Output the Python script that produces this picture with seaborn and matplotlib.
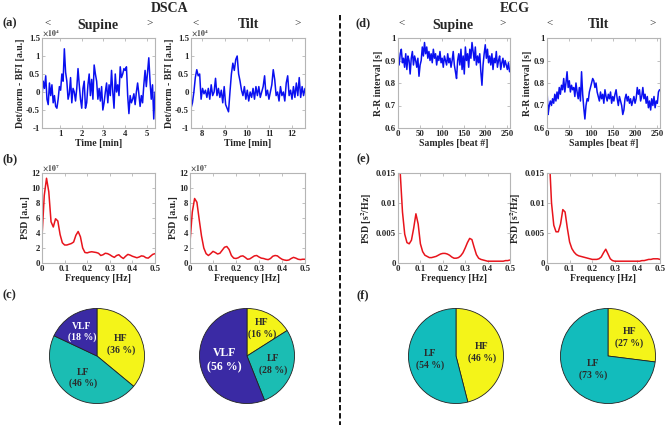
import numpy as np
import pandas as pd
import matplotlib
matplotlib.use("Agg")
import matplotlib.pyplot as plt
import seaborn as sns

# ---- data ----
# (a) DSCA BFI, x1e4 [a.u.]
bfi_supine_t = (0.17, 5.37)
bfi_supine = [-0.1, 0.3, 0.1, 0.45, -0.2, -0.35, 0.25, -0.1, 0.2, -0.3, -0.1, -0.4, -0.45, -0.2,
              0.15, 0.05, 0.5, 0.3, 1.2, 0.55, 0.3, -0.2, -0.05, 0.4, -0.3, 0.1, 0.0, -0.25, 0.1,
              0.65, 0.2, -0.2, -0.45, 0.1, 0.3, -0.45, -0.3, 0.2, 0.5, -0.1, 0.35, -0.2, 0.75, 0.5,
              0.3, -0.2, 0.1, -0.25, 0.15, -0.5, -0.3, 0.0, 0.25, -0.3, 0.2, -0.1, 0.6, 0.0, -0.45,
              0.5, 0.0, 0.2, -0.1, 0.7, 0.4, 0.5, 0.65, 0.6, 0.7, -0.1, -0.6, -0.1, -0.3, -0.2,
              -0.05, -0.35, 0.0, 0.25, -0.05, -0.4, -0.1, -0.3, 0.2, 0.6, 0.15, 0.55, 0.95, 0.3,
              -0.2, 0.2, -0.75, 0.0]
bfi_tilt_t = (7.51, 12.58)
bfi_tilt = [-0.45, -0.3, 0.0, 0.4, 0.62, 0.45, 0.5, -0.2, 0.1, -0.05, 0.05, -0.15, 0.1, -0.2, 0.2,
            -0.1, 0.0, 0.38, -0.1, 0.1, -0.15, 0.05, -0.3, 0.15, -0.35, -0.45, -0.55, 0.0, 0.5,
            0.8, 0.6, 0.9, 1.0, 0.5, 0.3, 0.05, -0.1, 0.15, -0.2, 0.05, -0.25, 0.0, -0.15, 0.1,
            -0.2, 0.15, -0.1, 0.15, -0.15, 0.0, 0.15, 0.45, -0.1, 0.05, -0.2, 0.0, 0.2, 0.62, 0.35,
            -0.1, 0.0, -0.25, 0.15, -0.1, 0.0, -0.25, 0.25, 0.45, -0.1, 0.05, -0.2, 0.15, -0.15,
            0.25, -0.1, 0.4, -0.15, 0.15, -0.1, 0.1]

# (b) DSCA PSD, x1e7 [a.u.], 0..0.5 Hz step 0.01
psd_freq = [round(0.01 * i, 2) for i in range(51)]
psd_bfi_supine = [3.5, 9.0, 11.3, 9.5, 5.5, 4.8, 5.9, 5.6, 3.8, 2.7, 2.4, 2.4, 2.5, 2.6, 2.8, 3.7,
                  4.2, 3.5, 2.0, 1.4, 1.35, 1.45, 1.5, 1.45, 1.4, 1.3, 1.0, 1.1, 1.3, 1.25, 1.1,
                  0.9, 0.75, 1.0, 1.1, 0.8, 0.6, 0.9, 1.15, 1.05, 0.9, 0.8, 0.7, 0.8, 0.95, 0.9,
                  0.7, 0.65, 0.9, 1.15, 1.25]
psd_bfi_tilt = [2.8, 6.8, 8.6, 8.1, 5.8, 3.6, 2.0, 1.25, 1.0, 1.25, 1.55, 1.4, 1.2, 1.3, 1.7, 2.1,
                2.2, 1.8, 1.0, 0.65, 0.6, 0.7, 0.9, 0.95, 0.75, 0.5, 0.55, 0.75, 0.95, 1.0, 0.8,
                0.65, 0.6, 0.5, 0.45, 0.6, 0.9, 1.0, 0.95, 0.7, 0.5, 0.4, 0.35, 0.4, 0.6, 0.75,
                0.65, 0.5, 0.45, 0.5, 0.5]

# (c) DSCA band shares [%]
dsca_supine_pct = {"HF": 36, "LF": 46, "VLF": 18}
dsca_tilt_pct = {"HF": 16, "LF": 28, "VLF": 56}

# (d) ECG R-R intervals [s], samples 0..255
rr_last_sample = 255
rr_supine = [0.9, 0.88, 0.93, 0.95, 0.89, 0.91, 0.87, 0.93, 0.86, 0.92, 0.9, 0.84, 0.91, 0.94,
             0.88, 0.92, 0.9, 0.87, 0.91, 0.83, 0.88, 0.9, 0.96, 0.92, 0.98, 0.93, 0.96, 0.91,
             0.94, 0.9, 0.93, 0.89, 0.95, 0.91, 0.93, 0.88, 0.92, 0.9, 0.94, 0.89, 0.91, 0.87,
             0.92, 0.9, 0.88, 0.93, 0.89, 0.91, 0.87, 0.9, 0.94, 0.88, 0.85, 0.82, 0.9, 0.93,
             0.88, 0.95, 0.86, 0.92, 0.84, 0.96, 0.9, 0.93, 0.87, 0.95, 0.91, 0.98, 0.94, 0.9,
             0.96, 0.88, 0.92, 0.89, 0.93, 0.85, 0.79, 0.88, 0.93, 0.97, 0.91, 0.95, 0.89, 0.92,
             0.88, 0.93, 0.86, 0.91, 0.89, 0.94, 0.87, 0.9, 0.92, 0.86, 0.89, 0.91, 0.87, 0.9,
             0.88, 0.86, 0.89, 0.85]
rr_tilt = [0.77, 0.66, 0.7, 0.72, 0.7, 0.73, 0.71, 0.75, 0.72, 0.76, 0.73, 0.78, 0.75, 0.79,
           0.77, 0.82, 0.76, 0.8, 0.85, 0.78, 0.81, 0.76, 0.79, 0.77, 0.78, 0.74, 0.8, 0.76, 0.73,
           0.78, 0.72, 0.85, 0.75, 0.69, 0.64, 0.7, 0.73, 0.72, 0.76, 0.78, 0.8, 0.82, 0.81, 0.78,
           0.8, 0.76, 0.74, 0.72, 0.76, 0.73, 0.75, 0.71, 0.77, 0.74, 0.72, 0.75, 0.73, 0.76,
           0.71, 0.74, 0.72, 0.75, 0.77, 0.73, 0.7, 0.74, 0.72, 0.7, 0.66, 0.68, 0.73, 0.75,
           0.72, 0.74, 0.71, 0.73, 0.7, 0.72, 0.74, 0.71, 0.73, 0.78, 0.75, 0.77, 0.72, 0.74,
           0.78, 0.73, 0.75, 0.71, 0.74, 0.69, 0.72, 0.68, 0.73, 0.7, 0.74, 0.69, 0.72, 0.71,
           0.76, 0.77]

# (e) ECG PSD [s^2/Hz]
psd_rr_supine = [0.03, 0.015, 0.0085, 0.0048, 0.0034, 0.0032, 0.0038, 0.0058, 0.0082, 0.0065,
                 0.0032, 0.0019, 0.0013, 0.0011, 0.0009, 0.0009, 0.001, 0.0011, 0.0013, 0.0015,
                 0.0016, 0.0016, 0.0015, 0.0013, 0.001, 0.0008, 0.0008, 0.0009, 0.0012, 0.0017,
                 0.0025, 0.0034, 0.0041, 0.0039, 0.0026, 0.0014, 0.0008, 0.0006, 0.0005, 0.0004,
                 0.0003, 0.0003, 0.0003, 0.0003, 0.0003, 0.0003, 0.0003, 0.0003, 0.0004, 0.0004,
                 0.0005]
psd_rr_tilt = [0.03, 0.018, 0.01, 0.0063, 0.0052, 0.0052, 0.0065, 0.0089, 0.0085, 0.0058, 0.0035,
               0.0024, 0.0018, 0.0014, 0.0012, 0.0011, 0.001, 0.0009, 0.0008, 0.0007, 0.0006,
               0.0006, 0.0006, 0.0007, 0.001, 0.0017, 0.0023, 0.0015, 0.0007, 0.0004, 0.0003,
               0.0003, 0.0003, 0.0003, 0.0003, 0.0003, 0.0003, 0.0003, 0.0003, 0.0003, 0.0003,
               0.0003, 0.0004, 0.0004, 0.0005, 0.0006, 0.0006, 0.0007, 0.0007, 0.0007, 0.0006]

# (f) ECG band shares [%]
ecg_supine_pct = {"HF": 46, "LF": 54}
ecg_tilt_pct = {"HF": 27, "LF": 73}

# ---- style ----
sns.set_style("ticks")
plt.rcParams["font.family"] = ["Liberation Serif", "DejaVu Serif"]
plt.rcParams["font.weight"] = "bold"
plt.rcParams["axes.labelweight"] = "bold"
plt.rcParams["mathtext.fontset"] = "stix"
plt.rcParams["mathtext.default"] = "bf"

W, H = 667, 425
fig = plt.figure(figsize=(W / 100, H / 100), dpi=100)


def px_axes(x0, y0, x1, y1):
    # pixel box (top-left origin) -> figure axes
    return fig.add_axes([x0 / W, 1 - y1 / H, (x1 - x0) / W, (y1 - y0) / H])


def style(ax):
    for s in ax.spines.values():
        s.set_color("#b5b5b5")
        s.set_linewidth(0.8)
    ax.tick_params(direction="in", length=2, width=0.6, color="#b5b5b5",
                   labelsize=6.3, pad=1.5, top=True, right=True)
    for lab in ax.get_xticklabels() + ax.get_yticklabels():
        lab.set_fontweight("bold")


BLUE = "#0a10f0"
RED = "#e8141c"
lab_fs = 7

# (a) BFI traces
for (x0, x1), vals, t in [((42, 155), bfi_supine, bfi_supine_t),
                          ((191, 305), bfi_tilt, bfi_tilt_t)]:
    ax = px_axes(x0, 38, x1, 128)
    df = pd.DataFrame({"t": np.linspace(t[0], t[1], len(vals)), "v": vals})
    sns.lineplot(data=df, x="t", y="v", ax=ax, color=BLUE, lw=1.1)
    ax.set_xlim(t)
    ax.set_ylim(-1, 1.5)
    ax.set_yticks([-1, -0.5, 0, 0.5, 1, 1.5], ["-1", "-0.5", "0", "0.5", "1", "1.5"])
    ax.set_xlabel("Time [min]", fontsize=lab_fs, labelpad=1)
    ax.set_ylabel("Det/norm - BFI [a.u.]", fontsize=lab_fs, labelpad=1)
    ax.text(0.0, 1.0, r"$\times10^{4}$", transform=ax.transAxes, fontsize=5.5,
            color="#444444", va="bottom")
    style(ax)
    if t[0] < 1:
        ax.set_xticks([1, 2, 3, 4, 5])
    else:
        ax.set_xticks([8, 9, 10, 11, 12])

# (b) BFI PSD
for x0, x1, vals in [(42, 155, psd_bfi_supine), (190, 305, psd_bfi_tilt)]:
    ax = px_axes(x0, 173, x1, 263)
    sns.lineplot(x=psd_freq, y=vals, ax=ax, color=RED, lw=1.1)
    ax.set_xlim(0, 0.5)
    ax.set_ylim(0, 12)
    ax.set_yticks([0, 2, 4, 6, 8, 10, 12])
    ax.set_xticks([0, 0.1, 0.2, 0.3, 0.4, 0.5], ["0", "0.1", "0.2", "0.3", "0.4", "0.5"])
    ax.set_xlabel("Frequency [Hz]", fontsize=lab_fs, labelpad=1)
    ax.set_ylabel("PSD [a.u.]", fontsize=lab_fs, labelpad=1)
    ax.text(0.0, 1.0, r"$\times10^{7}$", transform=ax.transAxes, fontsize=5.5,
            color="#444444", va="bottom")
    style(ax)

# (d) R-R intervals
for x0, x1, vals in [(398, 510, rr_supine), (547, 660, rr_tilt)]:
    ax = px_axes(x0, 38, x1, 128)
    df = pd.DataFrame({"n": np.linspace(0, rr_last_sample, len(vals)), "rr": vals})
    sns.lineplot(data=df, x="n", y="rr", ax=ax, color=BLUE, lw=1.1)
    ax.set_xlim(0, 256)
    ax.set_ylim(0.6, 1.0)
    ax.set_yticks([0.6, 0.7, 0.8, 0.9, 1.0], ["0.6", "0.7", "0.8", "0.9", "1"])
    ax.set_xticks([0, 50, 100, 150, 200, 250])
    ax.set_xlabel("Samples [beat #]", fontsize=lab_fs, labelpad=1)
    ax.set_ylabel("R-R interval [s]", fontsize=lab_fs, labelpad=1)
    style(ax)

# (e) R-R PSD
for x0, x1, vals in [(398, 510, psd_rr_supine), (547, 660, psd_rr_tilt)]:
    ax = px_axes(x0, 173, x1, 263)
    sns.lineplot(x=psd_freq, y=vals, ax=ax, color=RED, lw=1.1)
    ax.set_xlim(0, 0.5)
    ax.set_ylim(0, 0.015)
    ax.set_yticks([0, 0.005, 0.01, 0.015], ["0", "0.005", "0.01", "0.015"])
    ax.set_xticks([0, 0.1, 0.2, 0.3, 0.4, 0.5], ["0", "0.1", "0.2", "0.3", "0.4", "0.5"])
    ax.set_xlabel("Frequency [Hz]", fontsize=lab_fs, labelpad=1)
    ax.set_ylabel(r"PSD [s$^{2}$/Hz]", fontsize=lab_fs, labelpad=1)
    style(ax)

# (c)/(f) pies
pie_colors = {"HF": "#f4f419", "LF": "#1bbdb3", "VLF": "#3a2aa4"}
pies = [(97, dsca_supine_pct, "#1bbdb3", {"HF": 0.55, "LF": 0.55, "VLF": 0.6}),
        (247, dsca_tilt_pct, "#1bbdb3", {"HF": 0.66, "LF": 0.58, "VLF": 0.48}),
        (456, ecg_supine_pct, "#12bcbc", {"HF": 0.55, "LF": 0.55}),
        (608, ecg_tilt_pct, "#12bcbc", {"HF": 0.6, "LF": 0.42})]
for cx, shares, lf_col, rad in pies:
    cy, r = 356, 48
    ax = px_axes(cx - r, cy - r, cx + r, cy + r)
    names = list(shares)
    cols = [lf_col if n == "LF" else pie_colors[n] for n in names]
    labels = [f"{n}\n({v} %)" for n, v in shares.items()]
    wedges, texts = ax.pie(list(shares.values()), colors=cols, labels=labels,
                           startangle=90, counterclock=False, labeldistance=0.55,
                           wedgeprops=dict(edgecolor="#222222", linewidth=0.6),
                           textprops=dict(fontsize=7, fontweight="bold", ha="center",
                                          va="center", linespacing=1.3))
    for n, w, tx in zip(names, wedges, texts):
        mid = np.deg2rad((w.theta1 + w.theta2) / 2)
        tx.set_position((rad[n] * np.cos(mid), rad[n] * np.sin(mid)))
        tx.set_color("white" if n == "VLF" else "#2a2a2a")
        if n == "VLF" and shares[n] > 50:
            tx.set_fontsize(8.5)
    ax.set_xlim(-1.01, 1.01)
    ax.set_ylim(-1.01, 1.01)
    ax.set_aspect("equal")

# ---- annotations ----
def ftext(x, y, s, **kw):
    fig.text(x / W, 1 - y / H, s, **kw)


ftext(170, 8, "DSCA", fontsize=10, fontweight="bold", ha="center", va="center")
ftext(515, 8, "ECG", fontsize=10, fontweight="bold", ha="center", va="center")
for x, y, s in [(3, 23, "(a)"), (3, 159, "(b)"), (3, 295, "(c)"),
                (356, 23, "(d)"), (357, 159, "(e)"), (357, 295, "(f)")]:
    ftext(x, y, s, fontsize=9, fontweight="bold", ha="left", va="center")
for lt, name, rt, cx in [(48, "Supine", 150, 98), (196, "Tilt", 298, 248),
                         (402, "Supine", 503, 453), (550, "Tilt", 653, 599)]:
    ftext(lt, 23, "<", fontsize=8, fontweight="normal", ha="center", va="center")
    ftext(cx, 25, name, fontsize=10, fontweight="bold", ha="center", va="center")
    ftext(rt, 23, ">", fontsize=8, fontweight="normal", ha="center", va="center")

fig.add_artist(plt.Line2D([340 / W, 340 / W], [1 - 15 / H, 0], color="black",
                          lw=1.3, ls=(0, (3, 1.5))))

fig.savefig("out.png", dpi=100)
